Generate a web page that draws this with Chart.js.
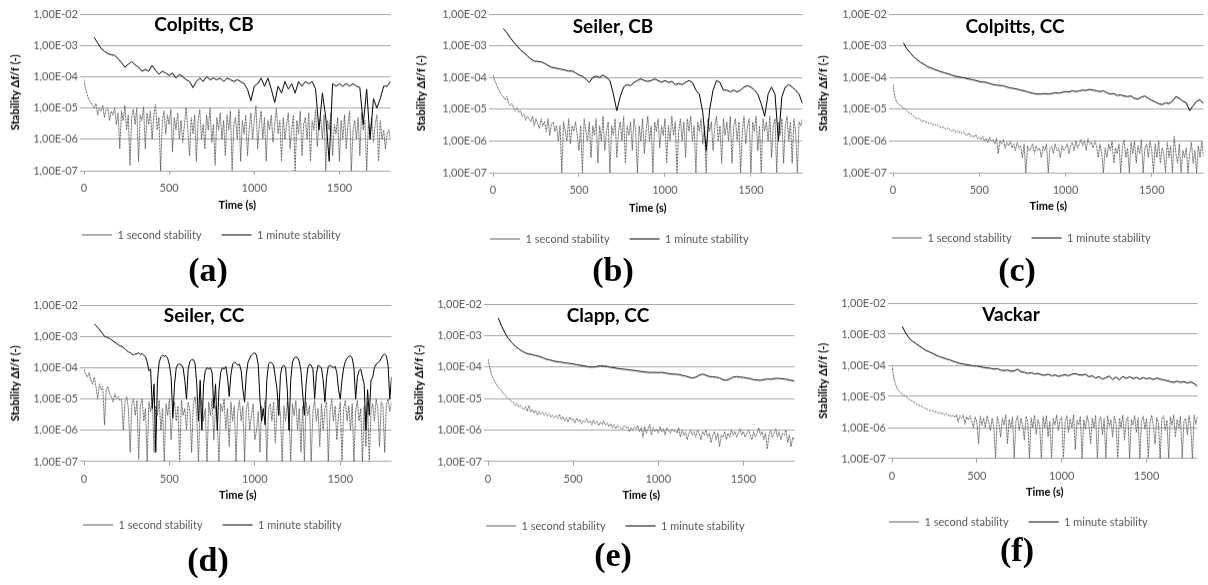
<!DOCTYPE html>
<html>
<head>
<meta charset="utf-8">
<script src="https://cdn.jsdelivr.net/npm/chart.js@4.4.1/dist/chart.umd.min.js"></script>
<style>
  html, body { margin: 0; padding: 0; background: #fff; }
  body { width: 1208px; height: 585px; position: relative; overflow: hidden; }
  .panel { position: absolute; }
  .ptitle { position: absolute; font-family: Lato, "Open Sans", sans-serif; font-weight: bold; font-size: 19px; color: #000; white-space: nowrap; transform: translate(-50%, -50%); line-height: 1; z-index: 5; }
  .plabel { position: absolute; font-family: "Liberation Serif", "Times New Roman", serif; font-weight: bold; font-size: 34px; color: #000; white-space: nowrap; transform: translate(-50%, -50%); line-height: 1; }
</style>
</head>
<body>
<script>
// ---------------- DATA ----------------
const X_TICKS = [0, 500, 1000, 1500];
const Y_TICKS = [1e-7, 1e-6, 1e-5, 1e-4, 1e-3, 1e-2];
const SERIES_LABELS = ['1 second stability', '1 minute stability'];
const SEC_STEP = 10;      // s between plotted 1-second-stability samples
const MIN_START = 60;     // first 1-minute-stability sample (s)

// (a) Colpitts, CB
const colpittsCB_sec = [
 8e-5,4e-5,2.5e-5,1.8e-5,1.5e-5,1.2e-5,1e-5,1.4e-5,6e-6,1e-5,
 8e-6,1.2e-5,5e-6,9e-6,1e-5,4e-6,8e-6,6e-6,1e-5,3e-6,
 7e-6,5e-7,8e-6,4e-6,1.2e-5,2e-6,6e-6,1.5e-7,5e-6,9e-6,
 3e-6,1e-5,2e-7,6e-6,4e-6,1.1e-5,5e-7,7e-6,3e-6,8e-6,
 1e-6,6e-6,1.3e-5,2e-6,5e-6,1e-7,4e-6,8e-6,1.5e-6,6e-6,
 3e-6,9e-6,4e-7,5e-6,2e-6,7e-6,1e-6,4e-6,8e-7,3e-6,
 1e-5,2e-6,3e-7,5e-6,1.5e-6,6e-6,2e-7,4e-6,9e-6,1e-6,
 3e-6,5e-7,6e-6,2e-6,1e-5,8e-7,3e-6,1.5e-7,5e-6,2e-6,
 7e-6,1e-6,4e-6,3e-7,6e-6,2e-6,8e-6,1e-7,3e-6,5e-6,
 1e-6,9e-6,2e-7,4e-6,1.5e-6,6e-6,3e-7,2e-6,7e-6,1e-6,
 4e-6,1.2e-5,5e-7,3e-6,8e-6,1e-6,5e-6,2e-7,4e-6,2e-6,
 6e-6,8e-7,3e-6,1e-5,1.5e-6,4e-6,2e-7,5e-6,1e-6,3e-6,
 7e-6,5e-7,2e-6,6e-6,1e-7,4e-6,1.5e-6,8e-6,3e-7,3e-6,
 5e-6,1e-6,7e-6,2e-7,4e-6,2e-6,9e-6,6e-7,3e-6,5e-6,
 1e-6,6e-6,1e-7,4e-6,2e-6,7e-6,3e-7,3e-6,1.5e-6,5e-6,
 2e-7,4e-6,1e-6,6e-6,5e-7,3e-6,8e-6,1e-7,2e-6,4e-6,
 1e-6,5e-6,3e-7,7e-6,2e-6,4e-6,1e-7,3e-6,1.5e-6,5e-6,
 8e-7,3e-6,6e-6,2e-7,4e-6,1e-6,2e-6,5e-7,1.5e-6,2e-6,
 1e-6];
const colpittsCB_min = [
 1.8e-3,1.2e-3,8e-4,6.5e-4,5.5e-4,5e-4,4.8e-4,3.8e-4,2.8e-4,2e-4,
 2.5e-4,3e-4,2.4e-4,2e-4,1.5e-4,1.7e-4,1.5e-4,2.3e-4,1.6e-4,1.2e-4,
 1.5e-4,1.3e-4,1.1e-4,1.3e-4,9e-5,1.2e-4,1e-4,8e-5,7e-5,4.5e-5,
 7e-5,9e-5,7e-5,1e-4,8e-5,9e-5,8e-5,9e-5,7e-5,9e-5,
 8e-5,7e-5,8e-5,7e-5,6e-5,4e-5,1.7e-5,5e-5,6e-5,9e-5,
 5e-5,9e-5,4e-5,1.5e-5,5e-5,3e-5,7e-5,4e-5,6e-5,3e-5,
 7e-5,5e-5,7e-5,6e-5,7e-5,4e-5,2e-6,3e-5,5e-6,2e-7,
 6e-5,5e-5,6e-5,5e-5,6e-5,5e-5,6e-5,5e-5,4.5e-5,3e-6,
 4e-5,1e-6,2e-5,1e-5,2e-5,5e-5,5e-5,7e-5];

// (b) Seiler, CB
const seilerCB_sec = [
 1.2e-4,8e-5,6e-5,4.5e-5,3.5e-5,2.8e-5,2.5e-5,2e-5,2.5e-5,1.6e-5,
 1.3e-5,1.5e-5,1.1e-5,9e-6,1.1e-5,8e-6,9e-6,6e-6,7e-6,4.5e-6,
 6e-6,5e-6,4e-6,6e-6,3e-6,5e-6,3.5e-6,2.5e-6,5e-6,3e-6,
 4e-6,2e-6,5e-6,1.5e-6,3.5e-6,4e-6,2e-6,3e-6,1e-6,3e-6,
 1e-7,4e-6,2e-6,1e-6,5e-6,8e-7,3e-6,2e-6,4e-6,1.5e-6,
 5e-7,3e-6,1e-7,5e-6,2e-6,1e-6,4e-6,3e-7,3e-6,1.5e-6,
 5e-6,2e-7,3e-6,1e-6,6e-6,5e-7,2e-6,4e-6,1e-7,3e-6,
 1.5e-6,5e-6,3e-7,2e-6,4e-6,1e-6,6e-6,2e-7,3e-6,1.5e-6,
 4e-6,5e-7,5e-6,2e-6,1e-7,3e-6,1e-6,5e-6,4e-7,2e-6,
 6e-6,1e-6,3e-6,1e-7,4e-6,2e-6,5e-6,6e-7,3e-6,1.5e-6,
 5e-6,2e-7,3e-6,1e-6,6e-6,1.5e-6,4e-6,1e-7,2e-6,5e-6,
 1e-6,4e-6,3e-7,5e-6,2e-6,6e-6,1e-6,3e-6,1e-7,4e-6,
 2e-6,5e-6,8e-7,3e-6,1e-7,5e-6,2e-6,4e-6,5e-7,3e-6,
 6e-6,1e-6,3e-6,2e-7,5e-6,1.5e-6,4e-6,1e-6,6e-6,2e-7,
 3e-6,5e-6,1e-6,4e-6,1e-7,2e-6,6e-6,8e-7,3e-6,5e-6,
 1e-7,4e-6,2e-6,6e-6,5e-7,3e-6,1e-7,5e-6,2e-6,4e-6,
 1e-6,6e-6,3e-7,3e-6,5e-6,1e-7,4e-6,1.5e-6,5e-6,2e-7,
 3e-6,6e-6,1e-6,4e-6,2e-7,5e-6,2e-6,1e-7,4e-6,3e-6,
 5e-6];
const seilerCB_min = [
 3.5e-3,2.6e-3,1.8e-3,1.3e-3,1e-3,7.5e-4,6e-4,4.8e-4,3.8e-4,3.3e-4,
 3.2e-4,3.1e-4,2.8e-4,2.4e-4,2.1e-4,2e-4,1.9e-4,1.8e-4,1.7e-4,1.6e-4,
 1.6e-4,1.4e-4,1.2e-4,1.1e-4,9e-5,7e-5,1e-4,1.1e-4,1e-4,1.2e-4,
 1e-4,8e-5,3e-5,9e-6,2.5e-5,5e-5,6e-5,5.5e-5,7e-5,8e-5,
 9e-5,8e-5,7.5e-5,8e-5,9e-5,8e-5,7e-5,8e-5,7e-5,7.5e-5,
 6e-5,6.5e-5,6e-5,7e-5,8e-5,7e-5,4e-5,3e-5,8e-6,5e-7,
 1e-5,4e-5,8e-5,7e-5,4e-5,4e-5,3.5e-5,4e-5,3.5e-5,4e-5,
 5e-5,5.5e-5,5e-5,4e-5,3e-5,1.5e-5,6e-6,3e-5,5e-5,3e-5,
 1e-6,2.5e-5,5e-5,6e-5,5e-5,4e-5,3e-5,1.5e-5];

// (c) Colpitts, CC
const colpittsCC_sec = [
 6e-5,2.5e-5,1.8e-5,1.5e-5,1.3e-5,1.2e-5,1.1e-5,1e-5,9e-6,8e-6,
 7.5e-6,7e-6,6e-6,5.5e-6,5e-6,5.2e-6,4.5e-6,4.2e-6,4.4e-6,4e-6,
 3.8e-6,3.5e-6,3.7e-6,3.2e-6,3.4e-6,3e-6,3.2e-6,2.8e-6,2.6e-6,2.8e-6,
 2.5e-6,2.3e-6,2.6e-6,2.2e-6,2e-6,2.3e-6,1.9e-6,2.1e-6,1.8e-6,2e-6,
 1.7e-6,1.9e-6,1.6e-6,1.5e-6,1.8e-6,1.4e-6,1.5e-6,1.3e-6,1.6e-6,1.2e-6,
 1.3e-6,1.1e-6,1.4e-6,1e-6,1.2e-6,9e-7,1.3e-6,1e-6,1.1e-6,8e-7,
 1.2e-6,4e-7,1e-6,8e-7,1.1e-6,6e-7,9e-7,7e-7,1e-6,6e-7,
 8e-7,5e-7,9e-7,6e-7,7e-7,3e-7,8e-7,1e-7,7e-7,5e-7,
 6e-7,8e-7,4e-7,7e-7,5e-7,6e-7,3e-7,7e-7,5e-7,8e-7,
 1e-7,6e-7,7e-7,4e-7,8e-7,5e-7,6e-7,3e-7,7e-7,5e-7,
 6e-7,8e-7,4e-7,7e-7,9e-7,5e-7,1e-6,6e-7,8e-7,1.1e-6,
 7e-7,1e-6,5e-7,1.2e-6,8e-7,9e-7,6e-7,1e-6,7e-7,3e-7,
 8e-7,4e-7,1e-7,6e-7,3e-7,8e-7,5e-7,1e-6,2e-7,6e-7,
 4e-7,8e-7,1e-7,7e-7,1.1e-6,3e-7,6e-7,1e-7,9e-7,4e-7,
 1e-6,2e-7,7e-7,4e-7,1.1e-6,1e-7,6e-7,8e-7,3e-7,1e-6,
 5e-7,1e-7,8e-7,3e-7,1e-6,2e-7,6e-7,4e-7,1e-7,9e-7,
 3e-7,7e-7,1e-7,1.4e-6,4e-7,2e-7,8e-7,1e-7,5e-7,3e-7,
 6e-7,1e-7,4e-7,9e-7,2e-7,5e-7,1e-7,7e-7,3e-7,1e-6,
 3e-7];
const colpittsCC_min = [
 1.25e-3,8e-4,6e-4,4.5e-4,3.6e-4,3e-4,2.6e-4,2.2e-4,2e-4,1.8e-4,
 1.65e-4,1.5e-4,1.4e-4,1.3e-4,1.2e-4,1.1e-4,1.05e-4,1e-4,9.5e-5,9e-5,
 8.5e-5,8e-5,7.5e-5,7.2e-5,7e-5,6.5e-5,6e-5,5.8e-5,5.6e-5,5.5e-5,
 5e-5,4.7e-5,4.5e-5,4.3e-5,4e-5,3.8e-5,3.5e-5,3.3e-5,3.1e-5,3e-5,
 3e-5,3.1e-5,3e-5,3.1e-5,3.3e-5,3.2e-5,3.4e-5,3.6e-5,3.5e-5,3.8e-5,
 3.6e-5,3.8e-5,4e-5,3.9e-5,4.2e-5,4e-5,3.8e-5,3.6e-5,3.8e-5,3.3e-5,
 3e-5,3.1e-5,2.7e-5,2.8e-5,2.6e-5,2.5e-5,2.6e-5,2.2e-5,2.1e-5,2.4e-5,
 2.6e-5,2.2e-5,1.9e-5,1.7e-5,1.5e-5,1.4e-5,1.6e-5,1.5e-5,1.8e-5,2.5e-5,
 2.2e-5,1.8e-5,1.6e-5,9e-6,1.3e-5,1.8e-5,2e-5,1.5e-5];

// (d) Seiler, CC
const seilerCC_sec = [
 9e-5,6e-5,5e-5,7e-5,4e-5,3e-5,5e-5,2.5e-5,1e-5,3e-5,
 2e-5,2.5e-5,1.5e-6,2e-5,2.5e-5,1.5e-5,1.2e-5,8e-6,1.5e-5,1e-5,
 1.2e-5,9e-6,1e-5,1e-6,8e-6,1.2e-5,5e-6,2e-7,7e-6,1e-5,
 3e-6,9e-6,1.2e-7,6e-6,1e-5,2e-6,5e-6,1e-7,8e-6,4e-6,
 1e-5,2e-7,6e-6,3e-6,9e-6,1e-6,5e-6,1e-7,7e-6,3e-6,
 1e-5,5e-7,4e-6,8e-6,2e-6,6e-6,1e-7,9e-6,3e-6,5e-6,
 1e-6,8e-6,4e-6,2e-7,7e-6,1.2e-5,3e-6,1e-7,6e-6,9e-6,
 2e-6,5e-6,1e-7,8e-6,3e-6,1e-5,5e-7,6e-6,2e-6,1e-7,
 7e-6,4e-6,1e-5,1e-6,5e-6,3e-7,8e-6,2e-6,6e-6,1e-7,
 4e-6,9e-6,2e-6,6e-6,1e-7,5e-6,8e-6,1e-6,3e-6,7e-6,
 5e-7,1e-6,4e-6,2e-7,6e-6,3e-6,9e-6,1e-7,5e-6,7e-6,
 2e-6,8e-6,4e-7,5e-6,1e-5,3e-6,1e-7,6e-6,2e-6,8e-6,
 4e-6,1e-7,7e-6,3e-6,9e-6,1e-6,5e-6,2e-7,6e-6,1e-7,
 8e-6,3e-6,6e-6,1e-7,4e-6,9e-6,2e-6,5e-6,3e-7,7e-6,
 1e-6,5e-6,8e-6,1e-7,4e-6,1e-5,2e-6,6e-6,5e-7,3e-6,
 8e-6,1e-7,5e-6,9e-6,2e-6,6e-6,1e-6,7e-6,1e-7,4e-6,
 9e-6,2e-6,5e-6,1e-7,6e-6,3e-7,8e-6,1e-7,4e-6,7e-6,
 2e-6,1e-5,5e-6,3e-7,8e-6,6e-6,2e-7,7e-6,1e-5,4e-6,
 8e-6];
const SEILER_CC_MIN_STEP = 10;
const seilerCC_min = [
 2.5e-3,2.2e-3,1.9e-3,1.7e-3,1.4e-3,1.2e-3,1e-3,9.5e-4,9e-4,8.5e-4,
 8e-4,7e-4,6.5e-4,6e-4,5.5e-4,5e-4,4.8e-4,4.5e-4,4e-4,3.5e-4,
 3.2e-4,3e-4,2.7e-4,2.6e-4,2.7e-4,2.8e-4,3e-4,2.6e-4,2.8e-4,2.5e-4,
 2.2e-4,1.5e-4,8e-5,9e-5,5e-6,3e-5,2e-7,4e-5,1.5e-4,2.2e-4,
 2.5e-4,2.3e-4,2.4e-4,2e-4,1.2e-4,5e-5,2.5e-6,3e-5,1e-4,1.3e-4,
 1.3e-4,1.25e-4,1e-4,4e-5,1e-5,9e-5,1.6e-4,1.8e-4,1.8e-4,1.4e-4,
 3e-5,2e-6,4e-5,1e-6,3e-5,8e-5,1e-4,9e-5,1e-4,7e-5,
 5e-6,3e-5,1e-6,2e-5,7e-5,1e-4,9e-5,1.1e-4,5e-5,1.2e-5,
 6e-5,1.3e-4,1.5e-4,1.4e-4,1.2e-4,1.3e-4,8e-5,2e-5,8e-6,6e-5,
 1.5e-4,2e-4,2.5e-4,2.8e-4,3e-4,2.5e-4,1.2e-4,1e-5,2e-6,5e-6,
 1.5e-6,4e-5,1.3e-4,1.5e-4,1.4e-4,1.2e-4,5e-5,2e-5,3e-6,6e-5,
 1.1e-4,1.2e-4,1e-4,2e-5,1e-6,4e-5,1.5e-4,2e-4,2.2e-4,2.1e-4,
 1.6e-4,8e-5,1.5e-5,3e-6,3e-5,1e-4,1.3e-4,1.2e-4,9e-5,1e-5,
 6e-5,1.2e-4,1.1e-4,1e-4,4e-5,8e-6,5e-5,1.1e-4,1.2e-4,1.1e-4,
 1e-4,1.1e-4,7e-5,2e-5,1e-5,4e-5,1e-4,1.6e-4,2e-4,2.3e-4,
 2.4e-4,2e-4,1e-4,1e-5,5e-5,8e-5,9e-5,5e-5,3e-5,1e-6,
 2e-5,3e-6,4e-5,5e-5,1e-4,1.3e-4,1.4e-4,1.6e-4,2e-4,2.5e-4,
 2.7e-4,2.4e-4,1.2e-4,1e-5,5e-5];

// (e) Clapp, CC
const clappCC_sec = [
 1.8e-4,1e-4,6e-5,4.5e-5,3.5e-5,2.8e-5,2.3e-5,2e-5,1.8e-5,1.5e-5,
 1.3e-5,1.1e-5,1e-5,9e-6,8e-6,7.5e-6,6e-6,7e-6,5.5e-6,6e-6,
 5e-6,4.5e-6,5.5e-6,4e-6,6e-6,3.8e-6,4.5e-6,3.5e-6,4.2e-6,3e-6,
 4e-6,3.2e-6,3.8e-6,3e-6,3.5e-6,2.8e-6,3.3e-6,2.6e-6,3e-6,2.5e-6,
 2.9e-6,2.4e-6,3.2e-6,2.2e-6,2.7e-6,2e-6,2.5e-6,1.8e-6,2.6e-6,2.1e-6,
 2.3e-6,1.7e-6,2.4e-6,1.9e-6,2.2e-6,1.6e-6,2e-6,1.8e-6,2.3e-6,1.7e-6,
 2e-6,1.5e-6,2.1e-6,1.6e-6,1.9e-6,1.4e-6,1.8e-6,1.5e-6,2e-6,1.4e-6,
 1.7e-6,1.3e-6,1.6e-6,1.2e-6,1.5e-6,1.1e-6,1.4e-6,1.3e-6,1.2e-6,1.1e-6,
 1.4e-6,1.2e-6,1.3e-6,9e-7,1.2e-6,1e-6,1.3e-6,1.1e-6,1.4e-6,9e-7,
 1.2e-6,6e-7,1.3e-6,8e-7,1.1e-6,1.5e-6,7e-7,1.2e-6,9e-7,1.1e-6,
 8e-7,1.3e-6,9e-7,1.1e-6,7e-7,1.2e-6,1e-6,8e-7,1.1e-6,9e-7,
 1e-6,8e-7,1.2e-6,6e-7,1e-6,7e-7,9e-7,5e-7,8e-7,1e-6,
 7e-7,9e-7,6e-7,1e-6,8e-7,5e-7,9e-7,7e-7,1e-6,6e-7,
 8e-7,4e-7,7e-7,9e-7,5e-7,8e-7,3e-7,7e-7,6e-7,9e-7,
 5e-7,8e-7,6e-7,1e-6,7e-7,9e-7,6e-7,8e-7,1.1e-6,7e-7,
 9e-7,6e-7,8e-7,1e-6,7e-7,5e-7,9e-7,6e-7,8e-7,1.2e-6,
 7e-7,9e-7,5e-7,8e-7,2.5e-7,7e-7,1e-6,6e-7,8e-7,1.1e-6,
 6e-7,9e-7,5e-7,8e-7,7e-7,1e-6,4e-7,7e-7,3e-7,6e-7,
 5e-7];
const clappCC_min = [
 3.6e-3,2e-3,1.2e-3,8e-4,6e-4,4.6e-4,3.8e-4,3.2e-4,2.8e-4,2.6e-4,
 2.5e-4,2.3e-4,2.2e-4,2e-4,1.8e-4,1.7e-4,1.6e-4,1.5e-4,1.45e-4,1.4e-4,
 1.35e-4,1.3e-4,1.25e-4,1.2e-4,1.15e-4,1.1e-4,1.05e-4,1e-4,1e-4,1.05e-4,
 1.1e-4,1.08e-4,1.05e-4,9.8e-5,9.5e-5,9e-5,8.8e-5,8.5e-5,8.3e-5,8e-5,
 7.8e-5,7.5e-5,7.2e-5,7e-5,6.8e-5,6.7e-5,6.8e-5,6.7e-5,6.8e-5,6.5e-5,
 6.2e-5,6e-5,6e-5,5.8e-5,5.5e-5,5.2e-5,4.8e-5,4.5e-5,4.8e-5,5.5e-5,
 6e-5,5.5e-5,5e-5,4.9e-5,4.8e-5,4.5e-5,4e-5,3.8e-5,4.2e-5,4.8e-5,
 5e-5,4.8e-5,4.7e-5,4.5e-5,4.3e-5,4e-5,3.9e-5,3.8e-5,4e-5,4.2e-5,
 4.1e-5,4.3e-5,4.4e-5,4.3e-5,4.2e-5,4e-5,3.8e-5,3.6e-5];

// (f) Vackar
const vackar_sec = [
 1e-4,4e-5,2.5e-5,1.8e-5,1.5e-5,1.3e-5,1.2e-5,1.1e-5,1e-5,9e-6,
 8e-6,7.5e-6,7e-6,6.5e-6,6e-6,5.5e-6,5.2e-6,5e-6,4.6e-6,4.3e-6,
 4e-6,3.8e-6,3.6e-6,3.4e-6,3.5e-6,3.1e-6,3.3e-6,2.9e-6,3.1e-6,2.7e-6,
 2.9e-6,2.5e-6,2.8e-6,2.4e-6,2.6e-6,2.2e-6,2.5e-6,2.1e-6,2.6e-6,1.5e-6,
 2.4e-6,2e-6,2.5e-6,1.3e-6,2.2e-6,1.8e-6,2.4e-6,1.6e-6,1e-6,2.2e-6,
 1.5e-6,3e-7,2.3e-6,1.2e-6,2e-6,1e-6,2.4e-6,1.5e-6,8e-7,2e-6,
 1e-6,1e-7,2.2e-6,1.4e-6,5e-7,2e-6,1.2e-6,2.6e-6,3e-7,1.8e-6,
 1e-6,2.2e-6,1e-7,1.6e-6,2.4e-6,8e-7,2e-6,1.2e-6,4e-7,2.3e-6,
 1.5e-6,1e-7,2e-6,1e-6,2.5e-6,6e-7,1.8e-6,1.2e-6,1e-7,2.2e-6,
 1e-6,2.4e-6,5e-7,1.6e-6,1e-7,2e-6,1.2e-6,2.5e-6,8e-7,1.8e-6,
 2.2e-6,1e-7,1.5e-6,2.4e-6,7e-7,1.9e-6,1e-6,2.6e-6,2e-7,1.7e-6,
 1.2e-6,2.3e-6,1e-7,1.8e-6,9e-7,2.4e-6,1.3e-6,3e-7,2e-6,1e-6,
 2.5e-6,1e-7,1.6e-6,2.2e-6,6e-7,1.9e-6,1e-7,2.4e-6,1.1e-6,1.8e-6,
 5e-7,2.3e-6,1.3e-6,1e-7,2e-6,1e-6,2.5e-6,4e-7,1.7e-6,2.2e-6,
 1e-7,1.8e-6,1.2e-6,2.4e-6,7e-7,2e-6,1e-7,1.6e-6,2.3e-6,9e-7,
 2e-6,1e-7,1.5e-6,2.5e-6,1.1e-6,3e-7,2.1e-6,1.4e-6,1e-7,1.9e-6,
 2.4e-6,8e-7,1.7e-6,1e-7,2.2e-6,1.2e-6,2.5e-6,5e-7,1.8e-6,1e-6,
 2.3e-6,1e-7,1.6e-6,2e-6,6e-7,2.4e-6,1.1e-6,1e-7,2.5e-6,1.3e-6,
 2.2e-6];
const vackar_min = [
 1.8e-3,1.1e-3,7.5e-4,6e-4,5e-4,4.2e-4,3.5e-4,3e-4,2.7e-4,2.4e-4,
 2.1e-4,1.9e-4,1.75e-4,1.6e-4,1.5e-4,1.35e-4,1.25e-4,1.15e-4,1.1e-4,1.05e-4,
 1e-4,9.5e-5,9.5e-5,9e-5,8.5e-5,8.2e-5,8e-5,7.5e-5,7.8e-5,7e-5,
 6.8e-5,7e-5,6.5e-5,6.6e-5,7.5e-5,6.2e-5,6e-5,5.5e-5,5.8e-5,5.3e-5,
 5.5e-5,5e-5,4.8e-5,5.2e-5,4.6e-5,4.9e-5,4.4e-5,4.7e-5,5e-5,4.6e-5,
 5.2e-5,5.4e-5,5e-5,4.8e-5,5.2e-5,4.3e-5,4.6e-5,3.9e-5,4.3e-5,3.6e-5,
 4e-5,4.5e-5,3.5e-5,4.2e-5,3.4e-5,4.4e-5,3.8e-5,4.3e-5,3.7e-5,4.1e-5,
 3.6e-5,4e-5,3.7e-5,3.9e-5,3.5e-5,3.9e-5,3.6e-5,3.4e-5,3.2e-5,3e-5,
 2.8e-5,3.1e-5,2.8e-5,3e-5,2.7e-5,2.9e-5,2.6e-5,2.1e-5];

// ---------------- STYLE / LAYOUT ----------------
const FONT = 'Lato, "Open Sans", sans-serif';
const GRID = '#a6a6a6';
const TICK_COLOR = '#595959';
const SEC_COLOR = '#5e5e5e';
const MIN_COLOR = '#000000';
const YW = 84;   // y-axis box width
const PT = 10;   // padding above plot

Chart.defaults.font.family = FONT;

const panels = [
  { title: 'Colpitts, CB', tag: '(a)', sec: colpittsCB_sec, min: colpittsCB_min, minStep: 20,
    plotL: 84, plotR: 391, plotT: 14, plotB: 170, legX: 82, legY: 234, yTitleX: 15, xTitleY: 204,
    titleX: 204, titleY: 23, tagX: 208, tagY: 270 },
  { title: 'Seiler, CB', tag: '(b)', sec: seilerCB_sec, min: seilerCB_min, minStep: 20,
    plotL: 493, plotR: 803, plotT: 14, plotB: 172, legX: 490, legY: 238, yTitleX: 421, xTitleY: 207,
    titleX: 613, titleY: 25, tagX: 613, tagY: 270 },
  { title: 'Colpitts, CC', tag: '(c)', sec: colpittsCC_sec, min: colpittsCC_min, minStep: 20,
    plotL: 893, plotR: 1204, plotT: 14, plotB: 172, legX: 892, legY: 237, yTitleX: 823, xTitleY: 205,
    titleX: 1015, titleY: 25, tagX: 1017, tagY: 270 },
  { title: 'Seiler, CC', tag: '(d)', sec: seilerCC_sec, min: seilerCC_min, minStep: SEILER_CC_MIN_STEP,
    plotL: 84, plotR: 392, plotT: 305, plotB: 461, legX: 83, legY: 524, yTitleX: 15, xTitleY: 494,
    titleX: 204, titleY: 314, tagX: 208, tagY: 560 },
  { title: 'Clapp, CC', tag: '(e)', sec: clappCC_sec, min: clappCC_min, minStep: 20,
    plotL: 488, plotR: 795, plotT: 304, plotB: 461, legX: 486, legY: 525, yTitleX: 419, xTitleY: 494,
    titleX: 608, titleY: 314, tagX: 613, tagY: 555 },
  { title: 'Vackar', tag: '(f)', sec: vackar_sec, min: vackar_min, minStep: 20,
    plotL: 892, plotR: 1198, plotT: 303, plotB: 458, legX: 889, legY: 521, yTitleX: 823, xTitleY: 491,
    titleX: 1011, titleY: 313, tagX: 1017, tagY: 550 }
];

function fmtSci(v) {
  const e = Math.round(Math.log10(v));
  const m = v / Math.pow(10, e);
  return m.toFixed(2).replace('.', ',') + 'E' + (e < 0 ? '-' : '+') + String(Math.abs(e)).padStart(2, '0');
}

const legendPlacer = {
  id: 'legendPlacer',
  afterLayout(chart, args, opts) {
    const lg = chart.legend;
    if (!lg) return;
    const h = lg.height;
    lg.left = opts.x - 20;
    lg.right = chart.width;
    lg.top = opts.y - 20 - 5.5;
    lg.bottom = lg.top + h;
  }
};

panels.forEach(p => {
  const canvasLeft = p.plotL - YW;
  const canvasTop = p.plotT - PT;
  const xh = p.xTitleY + 8.6 - p.plotB;
  const H = p.plotB - canvasTop + xh + 41;
  const W = p.plotR - canvasLeft;

  const box = document.createElement('div');
  box.className = 'panel';
  box.style.left = canvasLeft + 'px';
  box.style.top = canvasTop + 'px';
  box.style.width = W + 'px';
  box.style.height = H + 'px';
  const cv = document.createElement('canvas');
  box.appendChild(cv);
  document.body.appendChild(box);

  new Chart(cv, {
    type: 'line',
    data: {
      datasets: [
        { label: SERIES_LABELS[0], data: p.sec.map((v, i) => ({ x: i * SEC_STEP, y: v })),
          borderColor: SEC_COLOR, backgroundColor: SEC_COLOR, borderWidth: 1, borderDash: [2, 1],
          pointRadius: 0, tension: 0, order: 1 },
        { label: SERIES_LABELS[1], data: p.min.map((v, i) => ({ x: MIN_START + i * p.minStep, y: v })),
          borderColor: MIN_COLOR, backgroundColor: MIN_COLOR, borderWidth: 1,
          pointRadius: 0, tension: 0, order: 0 }
      ]
    },
    options: {
      animation: false,
      responsive: true,
      maintainAspectRatio: false,
      layout: { padding: { top: PT, left: 0, right: 0, bottom: 0 } },
      plugins: {
        tooltip: { enabled: false },
        legend: {
          position: 'bottom', align: 'start',
          labels: { usePointStyle: true, pointStyle: 'line', pointStyleWidth: 30, padding: 20,
                    sort: (a, b) => a.datasetIndex - b.datasetIndex,
                    font: { family: FONT, size: 11 }, color: TICK_COLOR }
        },
        legendPlacer: { x: p.legX - canvasLeft, y: p.legY - canvasTop }
      },
      scales: {
        x: {
          type: 'linear', min: 0, max: 1800,
          afterBuildTicks: s => { s.ticks = X_TICKS.map(v => ({ value: v })); },
          afterFit: s => { s.height = xh; s.paddingLeft = 0; s.paddingRight = 0; },
          grid: { display: true, drawOnChartArea: false, drawTicks: true, tickLength: 4, color: GRID },
          border: { display: false },
          ticks: { padding: 7, maxRotation: 0, autoSkip: false, callback: v => String(v),
                   font: { family: FONT, size: 11 }, color: TICK_COLOR },
          title: { display: true, text: 'Time (s)', color: '#000', font: { family: FONT, size: 11, weight: 'bold' },
                   padding: { top: 0, bottom: 2 } }
        },
        y: {
          type: 'logarithmic', min: 1e-7, max: 1e-2,
          afterBuildTicks: s => { s.ticks = Y_TICKS.map(v => ({ value: v })); },
          afterFit: s => { s.width = YW; s.paddingTop = 0; s.paddingBottom = 0; },
          grid: { color: GRID, lineWidth: 1, drawTicks: true, tickLength: 4 },
          border: { display: false },
          ticks: { padding: 2, autoSkip: false, callback: v => fmtSci(v), font: { family: FONT, size: 11 }, color: TICK_COLOR },
          title: { display: true, text: 'Stability \u0394f/f (-)', color: '#000', font: { family: FONT, size: 11, weight: 'bold' },
                   padding: { top: p.yTitleX - canvasLeft - 6.6, bottom: 0 } }
        }
      }
    },
    plugins: [legendPlacer]
  });

  const t = document.createElement('div');
  t.className = 'ptitle';
  t.textContent = p.title;
  t.style.left = p.titleX + 'px';
  t.style.top = p.titleY + 'px';
  document.body.appendChild(t);

  const g = document.createElement('div');
  g.className = 'plabel';
  g.textContent = p.tag;
  g.style.left = p.tagX + 'px';
  g.style.top = p.tagY + 'px';
  document.body.appendChild(g);
});
</script>
</body>
</html>
